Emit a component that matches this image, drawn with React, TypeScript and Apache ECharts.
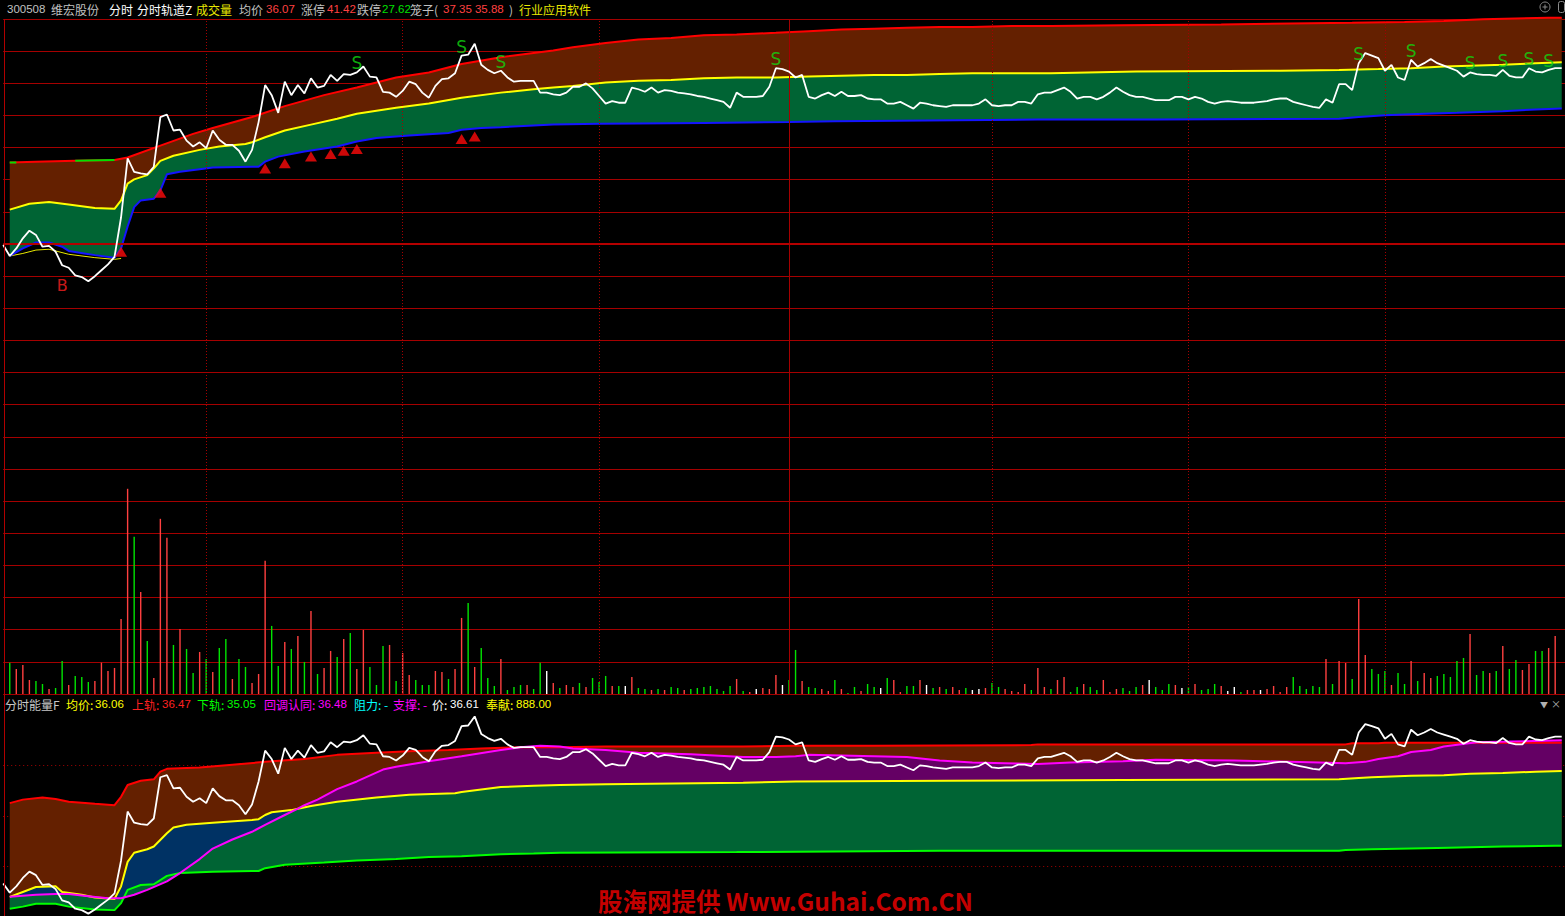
import React, { useEffect, useRef } from 'react';
import * as echarts from 'echarts';

// ---------- DATA ----------
// minute index 0..238 (9:30 .. ), last price of each minute
const PRICE: number[] = [
  34.51, 34.38, 34.47, 34.59, 34.68, 34.63, 34.49, 34.50, 34.43, 34.27,
  34.24, 34.15, 34.13, 34.08, 34.14, 34.21, 34.28, 34.37, 34.84, 35.54,
  35.38, 35.36, 35.35, 35.44, 36.03, 36.06, 35.87, 35.88, 35.75, 35.68,
  35.73, 35.66, 35.87, 35.76, 35.70, 35.70, 35.63, 35.50, 35.64, 35.97,
  36.41, 36.29, 36.08, 36.45, 36.29, 36.41, 36.31, 36.49, 36.38, 36.40,
  36.53, 36.46, 36.54, 36.53, 36.56, 36.63, 36.51, 36.50, 36.33, 36.32,
  36.27, 36.34, 36.45, 36.42, 36.32, 36.26, 36.40, 36.48, 36.49, 36.55,
  36.76, 36.77, 36.90, 36.65, 36.59, 36.55, 36.58, 36.50, 36.45, 36.46,
  36.46, 36.46, 36.32, 36.32, 36.30, 36.29, 36.32, 36.39, 36.39, 36.43,
  36.37, 36.28, 36.19, 36.22, 36.20, 36.20, 36.38, 36.36, 36.33, 36.38,
  36.32, 36.35, 36.34, 36.32, 36.31, 36.30, 36.28, 36.27, 36.25, 36.23,
  36.21, 36.14, 36.32, 36.27, 36.27, 36.27, 36.28, 36.39, 36.61, 36.60,
  36.57, 36.50, 36.53, 36.27, 36.25, 36.29, 36.32, 36.28, 36.33, 36.28,
  36.28, 36.29, 36.25, 36.24, 36.24, 36.19, 36.19, 36.21, 36.17, 36.13,
  36.20, 36.19, 36.17, 36.16, 36.15, 36.17, 36.17, 36.17, 36.17, 36.19,
  36.24, 36.17, 36.16, 36.17, 36.17, 36.21, 36.21, 36.19, 36.30, 36.32,
  36.32, 36.35, 36.38, 36.33, 36.25, 36.27, 36.27, 36.24, 36.27, 36.32,
  36.38, 36.33, 36.29, 36.27, 36.27, 36.25, 36.23, 36.23, 36.23, 36.27,
  36.27, 36.24, 36.27, 36.25, 36.21, 36.19, 36.21, 36.22, 36.21, 36.20,
  36.20, 36.20, 36.21, 36.22, 36.24, 36.25, 36.25, 36.21, 36.19, 36.17,
  36.15, 36.14, 36.24, 36.20, 36.42, 36.42, 36.35, 36.67, 36.79, 36.76,
  36.73, 36.58, 36.65, 36.50, 36.47, 36.71, 36.63, 36.67, 36.72, 36.67,
  36.64, 36.61, 36.58, 36.51, 36.56, 36.54, 36.53, 36.53, 36.52, 36.59,
  36.52, 36.50, 36.50, 36.61, 36.57, 36.56, 36.59, 36.61, 36.61,
];

// volume of minutes 1..237 (hands)
const VOLUME: number[] = [
  976, 779, 903, 436, 405, 311, 156, 187, 1028, 280,
  561, 529, 374, 405, 976, 716, 810, 2336, 6384, 4889,
  3176, 1650, 498, 5450, 4858, 1526, 2024, 1401, 654, 1308,
  1090, 685, 1432, 1713, 467, 1090, 841, 343, 623, 4142,
  2118, 872, 1619, 1401, 1806, 997, 2585, 623, 810, 1339,
  1152, 1713, 1900, 779, 1993, 841, 280, 1495, 1526, 405,
  1277, 592, 436, 280, 280, 716, 685, 467, 779, 2367,
  2834, 841, 1432, 498, 249, 1090, 125, 218, 280, 280,
  156, 976, 716, 343, 187, 280, 218, 343, 218, 498,
  374, 561, 249, 249, 249, 529, 187, 156, 125, 156,
  125, 218, 187, 125, 156, 187, 218, 249, 156, 93,
  249, 467, 93, 62, 156, 187, 156, 592, 280, 436,
  1370, 405, 218, 187, 156, 93, 436, 156, 31, 218,
  93, 311, 218, 187, 498, 436, 62, 249, 249, 436,
  280, 187, 218, 156, 218, 125, 187, 125, 156, 187,
  343, 218, 156, 93, 62, 311, 125, 810, 218, 156,
  436, 529, 62, 218, 311, 218, 125, 436, 62, 156,
  187, 93, 218, 280, 436, 218, 125, 311, 280, 187,
  218, 311, 125, 156, 311, 249, 93, 218, 62, 125,
  125, 125, 156, 249, 62, 218, 529, 249, 156, 249,
  218, 1090, 311, 1028, 965, 467, 2958, 1214, 779, 623,
  716, 280, 654, 311, 1028, 405, 654, 498, 561, 623,
  529, 1028, 1121, 1868, 592, 716, 654, 716, 1495, 779,
  1059, 747, 934, 1339, 1339, 1432, 1806,
];
// r = up, g = down, w = flat
const VOLUME_DIR: string =
  'grrrggrggr' + 'gggrrrrrrg' + 'rgrrrgrggr' + 'grggrggrrr' + 'ggrgrgrgrr' +
  'grgrrgggrg' + 'rrgggrrgrr' + 'grgggrgggr' + 'ggwrgrrgrg' + 'ggrgwrggrg' +
  'rggrgggggg' + 'grgrwrrrwg' + 'grggrrgrgg' + 'rggwgrrggr' + 'wgrgrrgwwr' +
  'ggrrrrgrrg' + 'rrggrggrrr' + 'gggrwgggrw' + 'grgggrwwgr' + 'rwrrrrgggg' +
  'grgrrgrrgg' + 'grggrgrrgg' + 'gggrggrgrg' + 'grrggrr';

// top panel channel (分时轨道)
const TOP_UPPER: number[][] = [
  [1, 35.49], [5, 35.50], [11, 35.51], [17, 35.52], [19, 35.55], [24, 35.69], [29, 35.83], [32, 35.90],
  [38, 36.03], [43, 36.16], [49, 36.29], [54, 36.38], [60, 36.50], [65, 36.56], [70, 36.66], [76, 36.74],
  [81, 36.79], [84, 36.82], [87, 36.86], [92, 36.91], [97, 36.95], [102, 36.97], [107, 37.00], [112, 37.01],
  [118, 37.03], [123, 37.05], [128, 37.07], [133, 37.08], [138, 37.09], [143, 37.10], [148, 37.10], [154, 37.11],
  [160, 37.11], [171, 37.12], [186, 37.13], [206, 37.15], [214, 37.16], [220, 37.17], [226, 37.19], [231, 37.20],
  [236, 37.21], [238, 37.21],
];
const TOP_UPPER_FALLING: number[][][] = [
  [[1, 35.49], [2, 35.49]],
  [[11, 35.51], [17, 35.52]],
];
const TOP_MID: number[][] = [
  [1, 34.93], [4, 35.00], [7, 35.02], [10, 34.99], [14, 34.95], [17, 34.94], [18, 35.04], [19, 35.24],
  [20, 35.29], [22, 35.34], [23, 35.42], [24, 35.51], [26, 35.57], [30, 35.64], [33, 35.68], [37, 35.71],
  [38, 35.73], [40, 35.79], [43, 35.87], [47, 35.94], [51, 36.01], [54, 36.07], [60, 36.14], [65, 36.19],
  [70, 36.26], [76, 36.32], [81, 36.36], [84, 36.38], [87, 36.40], [92, 36.44], [97, 36.46], [102, 36.47],
  [107, 36.49], [112, 36.50], [118, 36.50], [123, 36.51], [128, 36.52], [133, 36.53], [138, 36.53], [143, 36.54],
  [148, 36.55], [154, 36.55], [160, 36.55], [173, 36.57], [195, 36.58], [204, 36.59], [210, 36.60], [215, 36.61],
  [220, 36.63], [224, 36.64], [229, 36.65], [234, 36.67], [238, 36.68],
];
const TOP_LOWER: number[][] = [
  [1, 34.38], [3, 34.47], [5, 34.54], [7, 34.54], [9, 34.49], [10, 34.44], [14, 34.39], [17, 34.36],
  [18, 34.47], [19, 34.73], [20, 34.96], [21, 35.04], [23, 35.06], [24, 35.16], [25, 35.35], [27, 35.38],
  [30, 35.41], [32, 35.43], [38, 35.44], [39, 35.44], [40, 35.50], [42, 35.56], [46, 35.62], [51, 35.68],
  [54, 35.74], [57, 35.78], [62, 35.81], [68, 35.84], [70, 35.88], [73, 35.90], [76, 35.91], [81, 35.93],
  [84, 35.94], [91, 35.95], [107, 35.96], [120, 35.97], [127, 35.98], [158, 36.00], [176, 36.00], [204, 36.01],
  [207, 36.03], [211, 36.05], [217, 36.07], [222, 36.08], [229, 36.10], [234, 36.12], [238, 36.13],
];
const TOP_AVG: number[][] = [
  [1, 34.38], [3, 34.41], [5, 34.45], [7, 34.46], [10, 34.40], [14, 34.36], [17, 34.34], [18, 34.35],
];

// signals
const BUY_MARKS: number[][] = [
  [18, 34.43], [24, 35.13], [40, 35.42], [43, 35.48], [47, 35.56], [50, 35.59], [52, 35.63], [54, 35.65],
  [70, 35.77], [72, 35.80],
];
const SELL_IDX: number[] = [54, 70, 76, 118, 207, 215, 224, 229, 233, 236];
const B_IDX: number[] = [9];

// bottom panel (分时能量F)
const BOT_UPPER: number[][] = [
  [1, 35.66], [3, 35.71], [6, 35.74], [8, 35.72], [10, 35.68], [14, 35.65], [17, 35.63], [18, 35.75],
  [19, 35.92], [21, 35.98], [23, 36.00], [24, 36.11], [25, 36.15], [30, 36.17], [35, 36.21], [40, 36.25],
  [46, 36.29], [51, 36.35], [57, 36.38], [62, 36.40], [68, 36.42], [73, 36.44], [79, 36.46], [85, 36.46],
  [92, 36.47], [113, 36.47], [121, 36.48], [133, 36.48], [157, 36.49], [158, 36.50], [205, 36.50], [206, 36.515],
  [210, 36.515], [211, 36.525], [238, 36.525],
];
const BOT_MID: number[][] = [
  [1, 34.32], [3, 34.39], [5, 34.46], [8, 34.47], [9, 34.39], [12, 34.35], [14, 34.31], [17, 34.29],
  [18, 34.47], [19, 34.82], [20, 34.95], [22, 35.00], [23, 35.04], [25, 35.23], [26, 35.31], [28, 35.35],
  [32, 35.38], [38, 35.42], [39, 35.43], [40, 35.49], [41, 35.53], [44, 35.56], [45, 35.58], [47, 35.62],
  [51, 35.68], [57, 35.74], [62, 35.78], [69, 35.80], [70, 35.82], [76, 35.89], [81, 35.91], [85, 35.92],
  [92, 35.93], [113, 35.95], [121, 35.97], [144, 35.98], [171, 35.99], [204, 36.00], [207, 36.02], [209, 36.03],
  [215, 36.05], [220, 36.06], [224, 36.08], [229, 36.09], [234, 36.11], [238, 36.12],
];
const BOT_LOWER: number[][] = [
  [1, 34.15], [3, 34.18], [5, 34.22], [8, 34.22], [10, 34.18], [14, 34.14], [17, 34.13], [18, 34.23],
  [19, 34.42], [21, 34.49], [23, 34.50], [25, 34.62], [27, 34.66], [32, 34.68], [38, 34.69], [39, 34.69],
  [40, 34.73], [43, 34.78], [49, 34.81], [54, 34.84], [60, 34.86], [65, 34.89], [70, 34.90], [76, 34.93],
  [81, 34.94], [85, 34.95], [112, 34.96], [143, 34.98], [204, 34.98], [205, 34.99], [209, 35.00], [219, 35.02],
  [229, 35.04], [237, 35.05], [238, 35.05],
];
const BOT_SUPPORT: number[][] = [
  [1, 34.32], [5, 34.35], [8, 34.36], [10, 34.36], [13, 34.33], [16, 34.30], [18, 34.30], [20, 34.35],
  [22, 34.42], [25, 34.54], [27, 34.66], [30, 34.86], [32, 35.01], [35, 35.14], [38, 35.25], [40, 35.35],
  [43, 35.49], [45, 35.58], [46, 35.63], [48, 35.71], [51, 35.86], [54, 35.97], [58, 36.14], [60, 36.18],
  [65, 36.26], [70, 36.33], [76, 36.42], [79, 36.46], [82, 36.48], [85, 36.47], [87, 36.44], [92, 36.42],
  [97, 36.38], [105, 36.36], [113, 36.32], [118, 36.32], [121, 36.33], [123, 36.35], [133, 36.33], [138, 36.32],
  [143, 36.27], [148, 36.24], [153, 36.23], [158, 36.22], [163, 36.24], [171, 36.26], [176, 36.28], [188, 36.27],
  [201, 36.24], [205, 36.23], [208, 36.25], [210, 36.29], [213, 36.33], [215, 36.39], [218, 36.42], [220, 36.47],
  [225, 36.53], [230, 36.54], [238, 36.56],
];
const SUPPORT_CROSS = 45; // minute where 回调认同 crosses 均价

const HALF_HOUR_LINES: number[] = [31, 61, 91, 151, 181, 211];
const MIDDAY_LINE = 120;

const HEADER_TOP: [string, string][] = [
  ['300508', '#c0c0c0'], ['维宏股份', '#c0c0c0'], ['分时', '#ffffff'], ['分时轨道Z', '#ffffff'],
  ['成交量', '#e8e800'], ['均价', '#c0c0c0'], ['36.07', '#ff4040'], ['涨停', '#c0c0c0'], ['41.42', '#ff4040'],
  ['跌停', '#c0c0c0'], ['27.62', '#00e000'], ['笼子(', '#c0c0c0'], ['37.35 35.88', '#ff4040'], [')', '#c0c0c0'],
  ['行业应用软件', '#e8e800'],
];
const HEADER_BOTTOM: [string, string][] = [
  ['分时能量F', '#c8c8c8'], ['均价:', '#ffff00'], ['36.06', '#ffff00'], ['上轨:', '#ff2020'], ['36.47', '#ff2020'],
  ['下轨:', '#00ff00'], ['35.05', '#00ff00'], ['回调认同:', '#ff00ff'], ['36.48', '#ff00ff'], ['阻力:', '#00ffff'],
  ['-', '#00ffff'], ['支撑:', '#ff00ff'], ['-', '#ff00ff'], ['价:', '#ffffff'], ['36.61', '#ffffff'],
  ['奉献:', '#ffff00'], ['888.00', '#ffff00'],
];
const WATERMARK = '股海网提供 Www.Guhai.Com.CN';

// ---------- LAYOUT ----------
const HEADER_TOP_X = [7, 51, 109, 137, 196, 239, 266, 301, 327, 357, 382, 410, 443, 509, 519];
const HEADER_BOTTOM_X = [5, 66, 95, 132, 162, 197, 227, 264, 318, 354, 384, 393, 423, 432, 450, 486, 516];

const X_LEFT = 3.2;
const X_WIDTH = 1561.8;
const X_MAX = 238.5;
const FONT = '"Noto Sans CJK SC", "Noto Sans", sans-serif';
const NUM_FONT = '"Liberation Sans", "Noto Sans", sans-serif';
const GRID_RED = '#a50000';
const BROWN = '#642000';
const DARK_GREEN = '#006434';
const PURPLE = '#640064';
const NAVY = '#003264';
const DIR_COLORS: Record<string, string> = { r: '#ff4040', g: '#00e400', w: '#ffffff' };

function polygonSeries(gi: number, upper: number[][], lower: number[][], fill: string, z: number) {
  return {
    type: 'custom',
    xAxisIndex: gi,
    yAxisIndex: gi,
    z,
    silent: true,
    clip: true,
    data: [upper[0]],
    renderItem: (_p: any, api: any) => {
      const points = upper
        .map((d) => api.coord(d))
        .concat(lower.slice().reverse().map((d) => api.coord(d)));
      return { type: 'polygon', shape: { points }, style: { fill } };
    },
  };
}

function lineSeries(gi: number, data: number[][], color: string, width: number, z: number) {
  return {
    type: 'line',
    xAxisIndex: gi,
    yAxisIndex: gi,
    data,
    z,
    silent: true,
    symbol: 'none',
    showSymbol: false,
    lineStyle: { color, width },
    itemStyle: { color },
  };
}

function buildOption(): any {
  const grids = [
    { left: X_LEFT, top: 19, width: X_WIDTH, height: 675 }, // 0 background lines
    { left: X_LEFT, top: 0, width: X_WIDTH, height: 469 }, // 1 price
    { left: X_LEFT, top: 469, width: X_WIDTH, height: 225 }, // 2 volume
    { left: X_LEFT, top: 712, width: X_WIDTH, height: 204 }, // 3 indicator
    { left: X_LEFT, top: 715, width: X_WIDTH, height: 202 }, // 4 indicator grid lines
  ].map((g) => ({ ...g, show: false, outerBoundsMode: 'none', containLabel: false }));

  const xAxis = grids.map((_, gi) => ({ type: 'value', gridIndex: gi, min: 0, max: X_MAX, show: false }));
  const hidden = { axisLine: { show: false }, axisTick: { show: false }, axisLabel: { show: false } };
  const yAxis = [
    { type: 'value', gridIndex: 0, min: 0, max: 21, interval: 1, ...hidden, splitLine: { show: true, lineStyle: { color: GRID_RED, width: 1 } } },
    { type: 'value', gridIndex: 1, min: 31.85, max: 37.42, show: false },
    { type: 'value', gridIndex: 2, min: 0, max: 7000, show: false },
    { type: 'value', gridIndex: 3, min: 34.046, max: 36.963, show: false },
    {
      type: 'value', gridIndex: 4, min: 0, max: 4, interval: 1, ...hidden,
      splitLine: { show: true, showMinLine: false, showMaxLine: false, lineStyle: { color: GRID_RED, width: 1, type: [1, 3] } },
    },
  ];

  const priceData = PRICE.map((p, i) => [i, p]);
  const supportLeft = BOT_SUPPORT.filter((d) => d[0] <= SUPPORT_CROSS);
  const supportRight = BOT_SUPPORT.filter((d) => d[0] >= SUPPORT_CROSS);
  const midLeft = BOT_MID.filter((d) => d[0] <= SUPPORT_CROSS);
  const midRight = BOT_MID.filter((d) => d[0] >= SUPPORT_CROSS);
  const greenTop = supportLeft.concat(BOT_MID.filter((d) => d[0] > SUPPORT_CROSS));

  const series: any[] = [
    {
      type: 'line', xAxisIndex: 0, yAxisIndex: 0, data: [], silent: true, z: 0,
      markLine: {
        symbol: ['none', 'none'], silent: true, animation: false, label: { show: false },
        data: [
          ...HALF_HOUR_LINES.map((x) => ({ xAxis: x, lineStyle: { color: GRID_RED, type: [1, 2], width: 1 } })),
          { xAxis: MIDDAY_LINE, lineStyle: { color: GRID_RED, type: 'solid', width: 1 } },
          { yAxis: 14, lineStyle: { color: '#b40000', type: 'solid', width: 2 } },
        ],
      },
    },
    // top panel fills
    polygonSeries(1, TOP_UPPER, TOP_MID, BROWN, 1),
    polygonSeries(1, TOP_MID, TOP_LOWER, DARK_GREEN, 1),
    lineSeries(1, TOP_AVG, '#e8e800', 1, 2),
    lineSeries(1, TOP_UPPER, '#ff0000', 2, 3),
    ...TOP_UPPER_FALLING.map((seg) => lineSeries(1, seg, '#00e000', 2, 3)),
    lineSeries(1, TOP_MID, '#ffff00', 2, 3),
    lineSeries(1, TOP_LOWER, '#1414ff', 2, 3),
    lineSeries(1, priceData, '#ffffff', 1.8, 5),
    {
      type: 'scatter', xAxisIndex: 1, yAxisIndex: 1, z: 6, silent: true,
      symbol: 'triangle', symbolSize: [12, 10], itemStyle: { color: '#ff0a0a' },
      data: BUY_MARKS,
    },
    {
      type: 'scatter', xAxisIndex: 1, yAxisIndex: 1, z: 6, silent: true,
      symbolSize: 1, itemStyle: { color: 'rgba(0,0,0,0)' },
      label: { show: true, formatter: 'S', position: 'top', distance: 0, color: '#10d810', fontSize: 17, fontFamily: '"DejaVu Sans", sans-serif' },
      data: SELL_IDX.map((i) => [i, PRICE[i]]),
    },
    {
      type: 'scatter', xAxisIndex: 1, yAxisIndex: 1, z: 6, silent: true,
      symbolSize: 1, itemStyle: { color: 'rgba(0,0,0,0)' },
      label: { show: true, formatter: 'B', position: 'bottom', distance: 12, color: '#ff2020', fontSize: 16, fontFamily: '"DejaVu Sans", sans-serif' },
      data: B_IDX.map((i) => [i, PRICE[i]]),
    },
    // volume
    {
      type: 'bar', xAxisIndex: 2, yAxisIndex: 2, z: 3, silent: true, barWidth: 1.4,
      data: VOLUME.map((v, k) => ({ value: [k + 1, v], itemStyle: { color: DIR_COLORS[VOLUME_DIR[k]] } })),
    },
    // bottom indicator fills
    polygonSeries(3, BOT_UPPER, BOT_LOWER, BROWN, 1),
    polygonSeries(3, midLeft, supportLeft, NAVY, 1),
    polygonSeries(3, supportRight, midRight, PURPLE, 1),
    polygonSeries(3, greenTop, BOT_LOWER, DARK_GREEN, 1),
    lineSeries(3, BOT_UPPER, '#ff0000', 2, 3),
    lineSeries(3, BOT_MID, '#ffff00', 2, 3),
    lineSeries(3, BOT_LOWER, '#00ff00', 2, 3),
    lineSeries(3, BOT_SUPPORT, '#ff00ff', 2, 3),
    lineSeries(3, priceData, '#ffffff', 1.8, 5),
  ];

  const isNum = (t: string) => /^[0-9.\s]+$/.test(t);
  const textEl = (x: number, y: number, t: string, color: string, size = 12, weight = 'normal') => ({
    type: 'text', x, y, z: 100, silent: true,
    style: {
      text: t, fill: color,
      fontSize: isNum(t) ? size - 0.5 : size,
      fontFamily: isNum(t) ? NUM_FONT : FONT,
      fontWeight: weight, verticalAlign: 'middle', align: 'left',
    },
  });

  const graphic: any[] = [
    ...HEADER_TOP.map(([t, c], k) => textEl(HEADER_TOP_X[k], 9, t, c)),
    ...HEADER_BOTTOM.map(([t, c], k) => textEl(HEADER_BOTTOM_X[k], 704, t, c)),
    textEl(598, 900, WATERMARK, '#c40000', 24.5, 'bold'),
    { type: 'line', z: 100, silent: true, shape: { x1: 4.5, y1: 19, x2: 4.5, y2: 916 }, style: { stroke: '#b00000', lineWidth: 1 } },
    { type: 'circle', z: 100, silent: true, shape: { cx: 1545, cy: 7, r: 5 }, style: { stroke: '#8c8c8c', fill: 'none', lineWidth: 1 } },
    { type: 'line', z: 100, silent: true, shape: { x1: 1542.5, y1: 7, x2: 1547.5, y2: 7 }, style: { stroke: '#8c8c8c', lineWidth: 1 } },
    { type: 'line', z: 100, silent: true, shape: { x1: 1545, y1: 4.5, x2: 1545, y2: 9.5 }, style: { stroke: '#8c8c8c', lineWidth: 1 } },
    { type: 'rect', z: 100, silent: true, shape: { x: 1558.5, y: 1.5, width: 6, height: 11, r: 2 }, style: { stroke: '#8c8c8c', fill: 'none', lineWidth: 1 } },
    textEl(1540, 704, '▼', '#b0b0b0', 8),
    textEl(1551, 703, '×', '#b0b0b0', 10),
  ];

  return {
    animation: false,
    backgroundColor: '#000000',
    grid: grids,
    xAxis,
    yAxis,
    series,
    graphic,
  };
}

export default function App() {
  const ref = useRef<HTMLDivElement>(null);
  useEffect(() => {
    if (!ref.current) return;
    const chart = echarts.init(ref.current, undefined, { renderer: 'svg' });
    chart.setOption(buildOption());
    return () => chart.dispose();
  }, []);
  return (
    <div
      ref={ref}
      style={{ position: 'fixed', left: 0, top: 0, width: 1565, height: 916, background: '#000' }}
    />
  );
}
